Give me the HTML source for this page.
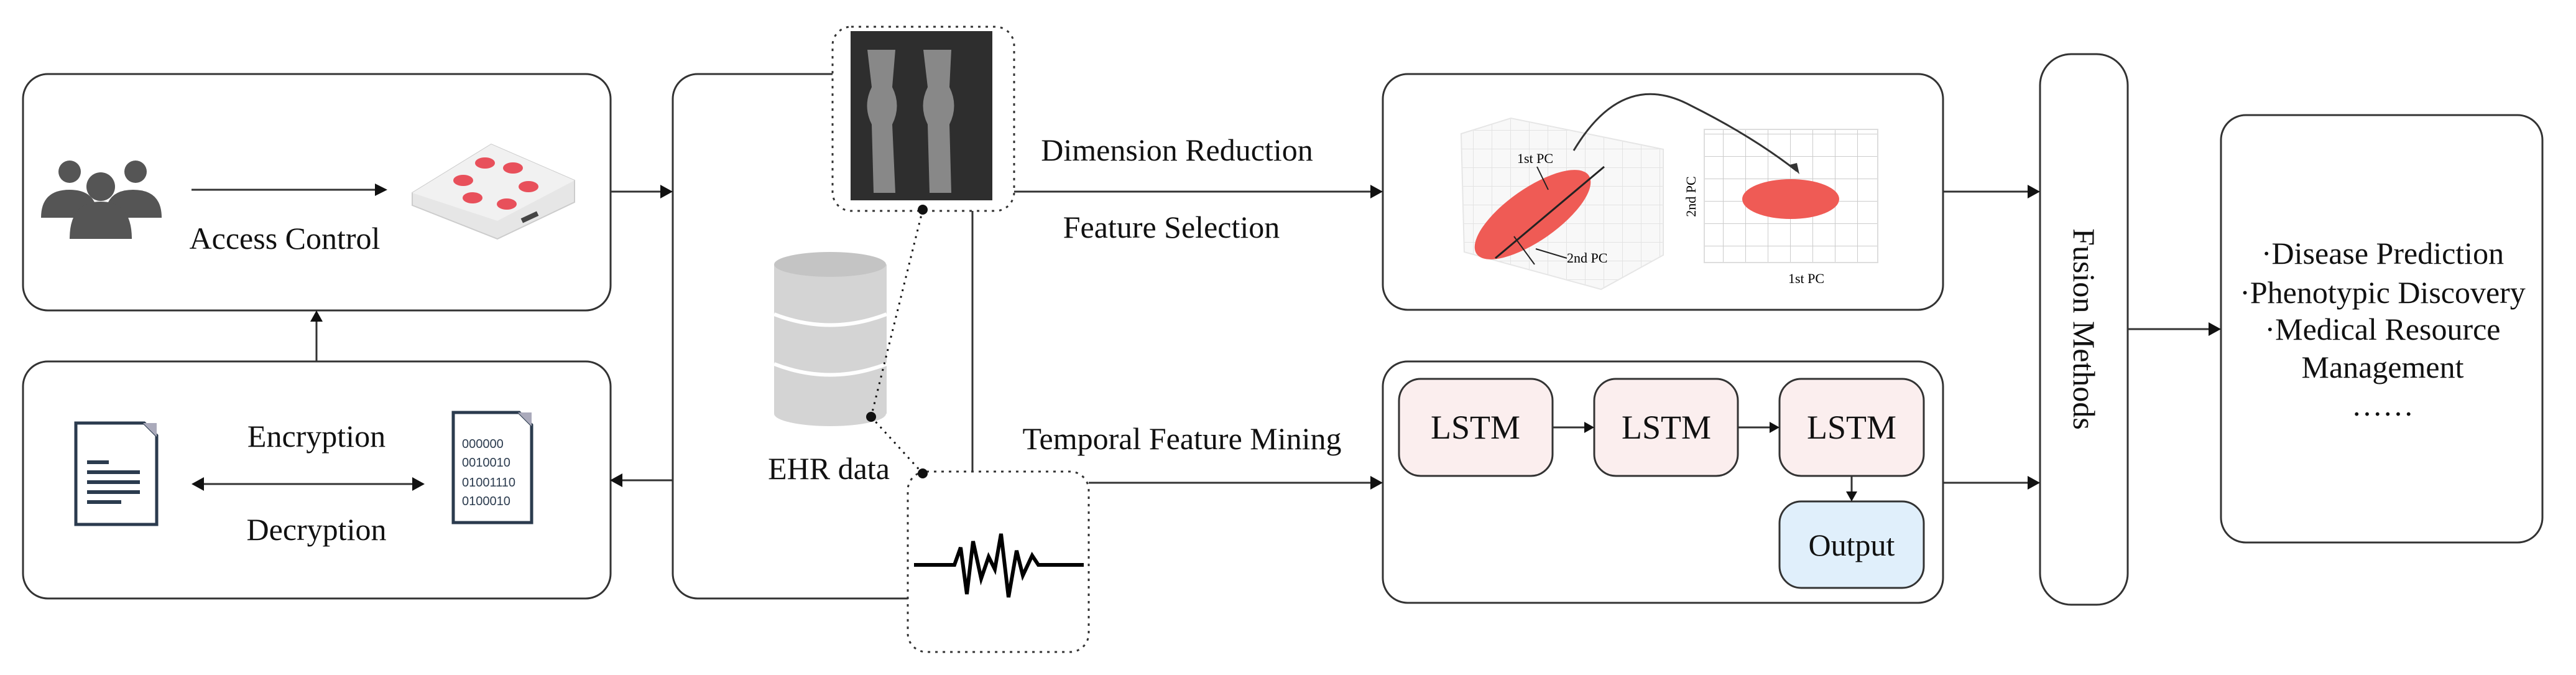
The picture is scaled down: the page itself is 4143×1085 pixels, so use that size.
<!DOCTYPE html>
<html><head><meta charset="utf-8"><style>
html,body{margin:0;padding:0;background:#fff;}
svg{display:block;}
</style></head><body>
<svg width="4143" height="1085" viewBox="0 0 4143 1085" xmlns="http://www.w3.org/2000/svg" font-family="'Liberation Serif', 'Times New Roman', serif">
<defs>
<pattern id="grid" width="30" height="30" patternUnits="userSpaceOnUse"><path d="M30 0V30H0" fill="none" stroke="#ddd" stroke-width="2"/></pattern>
<pattern id="grid2" width="36" height="36" patternUnits="userSpaceOnUse"><path d="M36 0V36H0" fill="none" stroke="#ccc" stroke-width="2"/></pattern>
</defs>
<g fill="none" stroke="#333" stroke-width="3">
<rect x="37" y="119" width="945" height="380" rx="40"/>
<rect x="37" y="581" width="945" height="381" rx="40"/>
<rect x="1082" y="119" width="482" height="843" rx="40"/>
<rect x="2224" y="119" width="901" height="379" rx="40"/>
<rect x="2224" y="581" width="901" height="388" rx="40"/>
<rect x="3281" y="87" width="141" height="885" rx="50"/>
<rect x="3572" y="185" width="517" height="687" rx="40"/>
<line x1="509" y1="581" x2="509" y2="515"/>
<line x1="308" y1="305" x2="605" y2="305"/>
<line x1="982" y1="308" x2="1064" y2="308"/>
<line x1="1082" y1="772" x2="1000" y2="772"/>
<line x1="325" y1="778" x2="666" y2="778"/>
<line x1="1631" y1="308" x2="2206" y2="308"/>
<line x1="1751" y1="776" x2="2206" y2="776"/>
<line x1="3125" y1="308" x2="3263" y2="308"/>
<line x1="3125" y1="776" x2="3263" y2="776"/>
<line x1="3422" y1="529" x2="3554" y2="529"/>
</g>
<g fill="#111">
<polygon points="509,499 499,517 519,517"/>
<polygon points="623,305 603,295 603,315"/>
<polygon points="1082,308 1062,297 1062,319"/>
<polygon points="981,772 1001,761 1001,783"/>
<polygon points="308,778 328,767 328,789"/>
<polygon points="683,778 663,767 663,789"/>
<polygon points="2224,308 2204,297 2204,319"/>
<polygon points="2224,776 2204,765 2204,787"/>
<polygon points="3281,308 3261,297 3261,319"/>
<polygon points="3281,776 3261,765 3261,787"/>
<polygon points="3572,529 3552,518 3552,540"/>
</g>
<g fill="#555">
<circle cx="112" cy="276" r="18"/><path d="M66 350 q0 -45 46 -45 q30 0 40 20 v25 z"/>
<circle cx="218" cy="276" r="18"/><path d="M260 350 q0 -45 -46 -45 q-30 0 -40 20 v25 z"/>
<circle cx="162" cy="300" r="23"/><path d="M112 384 q0 -60 50 -60 q50 0 50 60 z"/>
</g>
<polygon points="663,310 790,232 924,290 924,325 800,384 663,330" fill="#e6e6e6" stroke="#ccc" stroke-width="2"/>
<polygon points="663,310 790,232 924,290 800,355" fill="#f1f1f1"/>
<g fill="#e8505b">
<ellipse cx="780" cy="262" rx="16" ry="9"/><ellipse cx="825" cy="270" rx="16" ry="9"/>
<ellipse cx="745" cy="290" rx="16" ry="9"/><ellipse cx="850" cy="300" rx="16" ry="9"/>
<ellipse cx="760" cy="318" rx="16" ry="9"/><ellipse cx="815" cy="328" rx="16" ry="9"/>
</g>
<rect x="838" y="345" width="28" height="8" fill="#444" transform="rotate(-25 852 349)"/>
<g fill="none" stroke="#2b3b4e" stroke-width="5">
<path d="M122 680 H232 L252 700 V843 H122 Z"/>
<path d="M729 663 H835 L855 683 V840 H729 Z"/>
</g>
<polygon points="230,680 252,680 252,702" fill="#aab"/>
<polygon points="833,663 855,663 855,685" fill="#aab"/>
<g fill="#2b3b4e">
<rect x="140" y="740" width="35" height="6"/><rect x="140" y="756" width="85" height="6"/><rect x="140" y="772" width="85" height="6"/><rect x="140" y="788" width="85" height="6"/><rect x="140" y="804" width="55" height="6"/>
</g>
<g font-family="'Liberation Sans', sans-serif" font-size="20" fill="#2b3b4e">
<text x="743" y="720">000000</text>
<text x="743" y="750">0010010</text>
<text x="743" y="782">01001110</text>
<text x="743" y="812">0100010</text>
</g>
<g fill="#d4d4d4">
<rect x="1245" y="425" width="181" height="240"/>
<ellipse cx="1335" cy="665" rx="90" ry="20"/>
</g>
<ellipse cx="1335" cy="425" rx="90" ry="20" fill="#c4c4c4"/>
<path d="M1245 505 q90 35 181 0" stroke="#fff" stroke-width="6" fill="none"/>
<path d="M1245 585 q90 35 181 0" stroke="#fff" stroke-width="6" fill="none"/>
<rect x="1339" y="43" width="292" height="296" rx="30" fill="#fff" stroke="#333" stroke-width="3" stroke-dasharray="4 8"/>
<rect x="1368" y="50" width="228" height="272" fill="#2e2e2e"/>
<path d="M1395 80 h45 l-5 60 q15 30 0 60 l5 110 h-35 l-3 -110 q-15 -30 0 -60 z" fill="#888"/>
<path d="M1485 80 h45 l-3 60 q15 30 0 60 l3 110 h-35 l-3 -110 q-15 -30 0 -60 z" fill="#888"/>
<rect x="1460" y="758" width="291" height="290" rx="30" fill="#fff" stroke="#333" stroke-width="3" stroke-dasharray="4 8"/>
<polyline points="1470,908 1535,908 1545,880 1555,955 1565,870 1578,930 1590,895 1600,915 1610,858 1622,960 1635,885 1645,925 1660,893 1670,908 1743,908" fill="none" stroke="#000" stroke-width="6"/>
<g stroke="#111" stroke-width="3" stroke-dasharray="3 8" fill="none">
<line x1="1484" y1="337" x2="1401" y2="670"/>
<line x1="1401" y1="670" x2="1484" y2="761"/>
</g>
<g fill="#111"><circle cx="1484" cy="337" r="8"/><circle cx="1401" cy="670" r="8"/><circle cx="1484" cy="761" r="8"/></g>
<polygon points="2350,215 2430,190 2675,240 2675,410 2575,465 2355,405" fill="url(#grid)" stroke="#e4e4e4" stroke-width="2"/>
<polygon points="2350,215 2430,190 2675,240 2675,410 2575,465 2355,405" fill="#eee" opacity="0.4"/>
<ellipse cx="2465" cy="345" rx="110" ry="42" fill="#ef5b55" transform="rotate(-35 2465 345)"/>
<line x1="2405" y1="415" x2="2580" y2="268" stroke="#222" stroke-width="3"/>
<line x1="2435" y1="380" x2="2468" y2="425" stroke="#222" stroke-width="2"/>
<line x1="2472" y1="268" x2="2490" y2="305" stroke="#222" stroke-width="2"/>
<line x1="2520" y1="415" x2="2470" y2="400" stroke="#222" stroke-width="2"/>
<text x="2440" y="262" font-size="22">1st PC</text>
<text x="2520" y="422" font-size="22">2nd PC</text>
<rect x="2741" y="208" width="279" height="214" fill="url(#grid2)" stroke="#ddd" stroke-width="2"/>
<ellipse cx="2880" cy="320" rx="78" ry="32" fill="#ef5b55"/>
<text x="2905" y="455" font-size="22" text-anchor="middle">1st PC</text>
<text x="0" y="0" font-size="22" text-anchor="middle" transform="translate(2727 316) rotate(-90)">2nd PC</text>
<path d="M2531 242 Q2610 110 2720 170 Q2820 220 2890 275" fill="none" stroke="#333" stroke-width="3"/>
<polygon points="2894,280 2878,265 2890,262" fill="#333"/>
<g stroke="#333" stroke-width="3">
<rect x="2250" y="609" width="247" height="156" rx="35" fill="#fbeeee"/>
<rect x="2564" y="609" width="231" height="156" rx="35" fill="#fbeeee"/>
<rect x="2862" y="609" width="232" height="156" rx="35" fill="#fbeeee"/>
<rect x="2862" y="806" width="232" height="139" rx="35" fill="#e0effb"/>
<line x1="2497" y1="687" x2="2550" y2="687"/>
<line x1="2795" y1="687" x2="2848" y2="687"/>
<line x1="2978" y1="765" x2="2978" y2="792"/>
</g>
<g fill="#111">
<polygon points="2564,687 2548,678 2548,696"/>
<polygon points="2862,687 2846,678 2846,696"/>
<polygon points="2978,806 2969,790 2987,790"/>
</g>
<g font-size="54" text-anchor="middle" fill="#111">
<text x="2373" y="705">LSTM</text>
<text x="2680" y="705">LSTM</text>
<text x="2978" y="705">LSTM</text>
<text x="2978" y="893" font-size="50">Output</text>
</g>
<g font-size="50" fill="#111">
<text x="458" y="400" text-anchor="middle">Access Control</text>
<text x="509" y="718" text-anchor="middle">Encryption</text>
<text x="509" y="868" text-anchor="middle">Decryption</text>
<text x="1333" y="770" text-anchor="middle">EHR data</text>
<text x="1893" y="258" text-anchor="middle">Dimension Reduction</text>
<text x="1884" y="382" text-anchor="middle">Feature Selection</text>
<text x="1901" y="722" text-anchor="middle">Temporal Feature Mining</text>
<text x="0" y="0" text-anchor="middle" transform="translate(3335 529) rotate(90)">Fusion Methods</text>
<text x="3832" y="424" text-anchor="middle">·Disease Prediction</text>
<text x="3832" y="487" text-anchor="middle">·Phenotypic Discovery</text>
<text x="3832" y="546" text-anchor="middle">·Medical Resource</text>
<text x="3832" y="607" text-anchor="middle">Management</text>
<text x="3832" y="668" text-anchor="middle">……</text>
</g>
</svg>
</body></html>
